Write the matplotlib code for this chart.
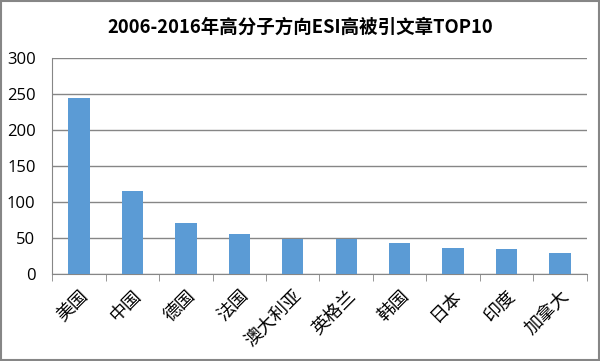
import matplotlib
matplotlib.use("Agg")
import matplotlib.pyplot as plt
import numpy as np

plt.rcParams['font.family'] = ['Noto Sans CJK SC', 'DejaVu Sans']

countries = ['美国', '中国', '德国', '法国', '澳大利亚', '英格兰', '韩国', '日本', '印度', '加拿大']
papers = [245, 116, 71, 56, 49, 49, 43, 36, 35, 29]
y_ticks = [0, 50, 100, 150, 200, 250, 300]

fig = plt.figure(figsize=(6, 3.61), dpi=100)
ax = fig.add_axes([0.087, 0.241, 0.891, 0.598])

x = np.arange(len(countries))
ax.bar(x, papers, width=0.4, color='#5B9BD5', zorder=3)

ax.set_xlim(-0.5, len(countries) - 0.5)
ax.set_ylim(0, 300)
ax.set_yticks(y_ticks)
ax.yaxis.grid(True, color='#868686', linewidth=1, zorder=0)
ax.tick_params(axis='y', length=0, labelsize=12, pad=12)
for lbl in ax.get_yticklabels():
    lbl.set_family(['Open Sans', 'DejaVu Sans'])

ax.set_xticks(x)
ax.set_xticklabels(countries, rotation=45, ha='right', rotation_mode='anchor', fontsize=13)
ax.tick_params(axis='x', which='major', length=0, pad=9)
ax.set_xticks(np.arange(-0.5, len(countries)), minor=True)
ax.tick_params(axis='x', which='minor', length=5, color='#868686', direction='out')

for side in ['top', 'right']:
    ax.spines[side].set_visible(False)
for side in ['left', 'bottom']:
    ax.spines[side].set_color('#868686')

fig.suptitle('2006-2016年高分子方向ESI高被引文章TOP10', x=0.5, y=0.95,
             fontsize=13.3, fontweight='bold')

fig.patches.append(plt.Rectangle((0.002, 0.003), 0.996, 0.994, transform=fig.transFigure,
                                 fill=False, edgecolor='#868686', linewidth=1.5))

fig.savefig('out.png', dpi=100)
